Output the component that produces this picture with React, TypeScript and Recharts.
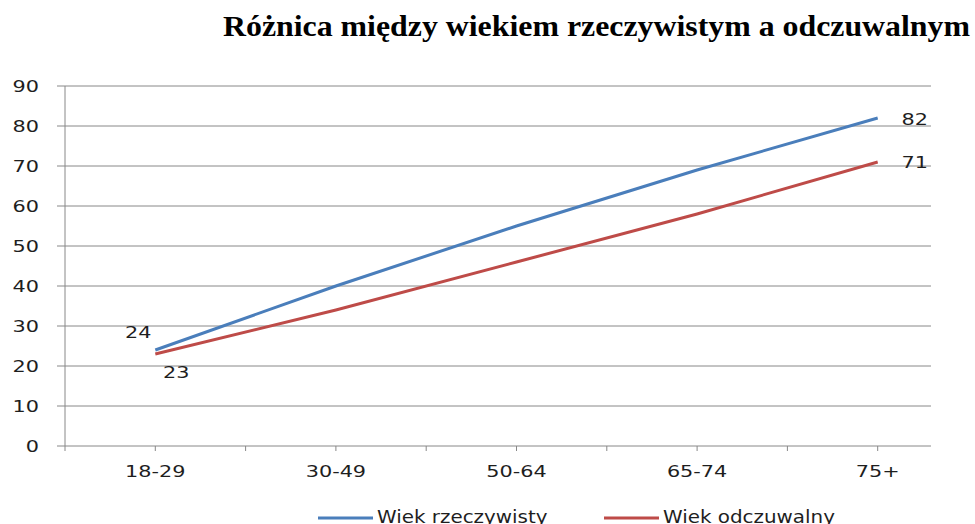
import React from 'react';
import { LineChart, Line, XAxis, YAxis, ReferenceLine } from 'recharts';

const categories = ['18-29', '30-49', '50-64', '65-74', '75+'];
const actualAge = [24, 40, 55, 69, 82];
const perceivedAge = [23, 34, 46, 58, 71];
const yTicks = [0, 10, 20, 30, 40, 50, 60, 70, 80, 90];
const seriesNames = ['Wiek rzeczywisty', 'Wiek odczuwalny'];
const seriesColors = ['#4A7EBB', '#BE4B48'];
const title = 'Różnica między wiekiem rzeczywistym a odczuwalnym';

const data = categories.map((c, i) => ({
  pos: 2 * i + 1,
  label: c,
  actual: actualAge[i],
  perceived: perceivedAge[i],
}));
const xTicks = Array.from({ length: 2 * categories.length }, (_, i) => i);
const X_MAX = 2 * categories.length;
const PLOT_END = 9.59;

const FONT = '"DejaVu Sans", sans-serif';
const TEXT = '#1e1e1e';
const AXIS = '#888888';
const SX = 1.3;

const YTick = (props: any) => {
  const { x, y, payload } = props;
  return (
    <text
      transform={`translate(${x},${y}) scale(${SX},1)`}
      textAnchor="end"
      dominantBaseline="central"
      fontFamily={FONT}
      fontSize={16}
      fill={TEXT}
    >
      {payload.value}
    </text>
  );
};

const XTick = (props: any) => {
  const { x, y, payload } = props;
  const v = payload.value;
  if (v % 2 !== 1) return null;
  const label = categories[(v - 1) / 2];
  return (
    <text
      transform={`translate(${x},${y + 24}) scale(${SX},1)`}
      textAnchor="middle"
      fontFamily={FONT}
      fontSize={16}
      fill={TEXT}
    >
      {label}
    </text>
  );
};

const makeLabel = (dxFirst: number, dyFirst: number, dxLast: number, dyLast: number) => (props: any) => {
  const { x, y, index, value } = props;
  const last = categories.length - 1;
  if (index !== 0 && index !== last) return <g key={`l${index}`} />;
  const dx = index === 0 ? dxFirst : dxLast;
  const dy = index === 0 ? dyFirst : dyLast;
  return (
    <text
      key={`l${index}`}
      transform={`translate(${x + dx},${y + dy}) scale(${SX},1)`}
      textAnchor="middle"
      dominantBaseline="central"
      fontFamily={FONT}
      fontSize={16}
      fill={TEXT}
    >
      {value}
    </text>
  );
};

export default function App() {
  return (
    <div style={{ position: 'fixed', left: 0, top: 0, width: 975, height: 524, background: '#fff' }}>
      <LineChart
        width={975}
        height={524}
        data={data}
        margin={{ top: 86, right: 7, bottom: 48, left: 0 }}
      >
        {yTicks.map((v) => (
          <ReferenceLine
            key={`g${v}`}
            segment={[{ x: 0, y: v }, { x: PLOT_END, y: v }]}
            stroke={AXIS}
            strokeWidth={1}
          />
        ))}
        <XAxis
          dataKey="pos"
          type="number"
          domain={[0, X_MAX]}
          ticks={xTicks}
          interval={0}
          height={30}
          tickSize={5}
          tickMargin={2}
          axisLine={false}
          tickLine={{ stroke: AXIS }}
          tick={<XTick />}
          allowDecimals={false}
        />
        <YAxis
          type="number"
          domain={[0, 90]}
          ticks={yTicks}
          interval={0}
          width={65}
          tickSize={8}
          tickMargin={18}
          axisLine={{ stroke: AXIS }}
          tickLine={{ stroke: AXIS }}
          tick={<YTick />}
        />
        <Line
          type="linear"
          dataKey="actual"
          name={seriesNames[0]}
          stroke={seriesColors[0]}
          strokeWidth={3}
          dot={false}
          isAnimationActive={false}
          label={makeLabel(-17, -18, 37, 1)}
        />
        <Line
          type="linear"
          dataKey="perceived"
          name={seriesNames[1]}
          stroke={seriesColors[1]}
          strokeWidth={3}
          dot={false}
          isAnimationActive={false}
          label={makeLabel(21, 18, 37, 0)}
        />
      </LineChart>
      <svg
        width={975}
        height={524}
        style={{ position: 'absolute', left: 0, top: 0, pointerEvents: 'none' }}
      >
        <text
          x={223}
          y={36}
          textLength={747}
          lengthAdjust="spacingAndGlyphs"
          fontFamily='"Liberation Serif", "Times New Roman", serif'
          fontWeight="bold"
          fontSize={30}
          fill="#000"
        >
          {title}
        </text>
        {seriesNames.map((name, i) => {
          const x0 = i === 0 ? 318 : 604;
          return (
            <g key={name}>
              <line x1={x0} x2={x0 + 55} y1={518} y2={518} stroke={seriesColors[i]} strokeWidth={3} />
              <text
                transform={`translate(${x0 + 59},523) scale(1.17,1)`}
                fontFamily={FONT}
                fontSize={17}
                fill={TEXT}
              >
                {name}
              </text>
            </g>
          );
        })}
      </svg>
    </div>
  );
}
